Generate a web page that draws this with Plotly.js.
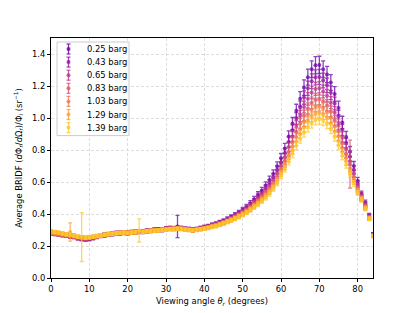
<!DOCTYPE html>
<html>
<head>
<meta charset="utf-8">
<script src="https://cdn.plot.ly/plotly-3.0.1.min.js"></script>
<style>html,body{margin:0;padding:0;background:#fff}#chart{width:415px;height:313px}</style>
</head>
<body>
<div id="chart"></div>
<script>
// Viewing angles (degrees)
const angles = [0,1,2,3,4,5,6,7,8,9,10,11,12,13,14,15,16,17,18,19,20,21,22,23,24,25,26,27,28,29,30,31,32,33,34,35,36,37,38,39,40,41,42,43,44,45,46,47,48,49,50,51,52,53,54,55,56,57,58,59,60,61,62,63,64,65,66,67,68,69,70,71,72,73,74,75,76,77,78,79,80,81,82,83,84];

const labels = ["0.25 barg","0.43 barg","0.65 barg","0.83 barg","1.03 barg","1.29 barg","1.39 barg"];

const bridf_025 = [
0.285,0.280,0.278,0.272,0.268,0.262,0.260,0.252,0.246,0.242,
0.244,0.250,0.258,0.264,0.268,0.272,0.275,0.280,0.279,0.284,
0.281,0.285,0.286,0.290,0.289,0.294,0.296,0.300,0.303,0.301,
0.308,0.310,0.309,0.322,0.310,0.306,0.304,0.300,0.305,0.310,
0.316,0.322,0.330,0.337,0.346,0.356,0.367,0.380,0.392,0.407,
0.425,0.442,0.465,0.490,0.518,0.545,0.578,0.612,0.650,0.698,
0.748,0.810,0.885,0.965,1.045,1.120,1.190,1.255,1.305,1.330,
1.332,1.305,1.272,1.222,1.150,1.062,0.972,0.882,0.790,0.700,
0.605,0.522,0.468,0.388,0.272];
const err_025 = [
.014,.013,.012,.012,.013,.012,.012,.013,.012,.012,
.012,.012,.011,.012,.012,.012,.012,.011,.012,.012,
.012,.012,.012,.012,.012,.012,.012,.013,.012,.012,
.013,.012,.012,.070,.012,.012,.012,.012,.012,.012,
.013,.013,.013,.013,.014,.014,.015,.015,.016,.016,
.017,.018,.019,.020,.021,.022,.023,.025,.026,.028,
.030,.032,.035,.038,.041,.045,.048,.050,.052,.054,
.054,.052,.051,.049,.046,.043,.039,.035,.032,.028,
.024,.021,.019,.016,.012];

const bridf_043 = [
0.282,0.279,0.274,0.270,0.266,0.262,0.258,0.250,0.244,0.243,
0.246,0.252,0.259,0.265,0.270,0.273,0.276,0.281,0.280,0.285,
0.283,0.286,0.288,0.291,0.290,0.295,0.297,0.301,0.302,0.303,
0.309,0.311,0.310,0.314,0.311,0.307,0.305,0.302,0.306,0.311,
0.316,0.321,0.329,0.336,0.344,0.352,0.363,0.376,0.387,0.401,
0.418,0.434,0.456,0.479,0.505,0.531,0.561,0.593,0.630,0.676,
0.724,0.782,0.850,0.923,0.997,1.065,1.128,1.186,1.230,1.254,
1.257,1.234,1.204,1.158,1.091,1.011,0.926,0.844,0.759,0.676,
0.589,0.515,0.460,0.384,0.270];
const err_043 = [
.013,.012,.011,.011,.012,.011,.011,.012,.011,.011,
.011,.011,.011,.011,.011,.011,.011,.011,.011,.011,
.011,.011,.011,.011,.011,.011,.011,.011,.011,.011,
.011,.011,.011,.011,.011,.011,.011,.011,.011,.011,
.012,.012,.012,.012,.013,.013,.013,.014,.014,.015,
.015,.016,.017,.018,.019,.020,.021,.022,.023,.025,
.027,.029,.032,.034,.037,.040,.042,.044,.046,.047,
.047,.046,.045,.043,.040,.037,.034,.031,.028,.025,
.022,.019,.017,.014,.011];

const bridf_065 = [
0.280,0.276,0.272,0.268,0.265,0.261,0.257,0.252,0.247,0.246,
0.249,0.254,0.260,0.266,0.271,0.274,0.277,0.281,0.282,0.285,
0.282,0.285,0.287,0.290,0.291,0.294,0.296,0.299,0.301,0.303,
0.307,0.309,0.311,0.312,0.310,0.306,0.303,0.301,0.304,0.309,
0.314,0.319,0.326,0.333,0.340,0.349,0.360,0.371,0.383,0.396,
0.412,0.427,0.447,0.469,0.493,0.517,0.545,0.576,0.610,0.654,
0.702,0.755,0.818,0.884,0.951,1.012,1.069,1.120,1.159,1.182,
1.186,1.166,1.139,1.096,1.035,0.961,0.882,0.807,0.730,0.653,
0.574,0.507,0.453,0.380,0.268];
const err_065 = [
.011,.011,.011,.011,.011,.011,.011,.011,.011,.011,
.011,.011,.011,.011,.011,.011,.011,.011,.011,.011,
.011,.011,.011,.011,.011,.011,.011,.011,.011,.011,
.011,.011,.011,.011,.011,.011,.011,.011,.011,.011,
.011,.011,.012,.012,.012,.012,.013,.013,.013,.014,
.014,.015,.016,.016,.017,.018,.019,.020,.021,.023,
.024,.026,.028,.031,.033,.035,.037,.039,.040,.041,
.041,.040,.039,.038,.036,.033,.031,.028,.025,.023,
.020,.018,.016,.013,.010];

const bridf_083 = [
0.278,0.275,0.270,0.267,0.264,0.260,0.258,0.254,0.250,0.248,
0.250,0.255,0.261,0.266,0.270,0.273,0.277,0.279,0.281,0.283,
0.281,0.284,0.286,0.289,0.290,0.292,0.295,0.298,0.300,0.302,
0.306,0.308,0.309,0.311,0.309,0.305,0.302,0.300,0.303,0.308,
0.312,0.317,0.324,0.331,0.338,0.346,0.357,0.368,0.378,0.392,
0.406,0.421,0.440,0.460,0.482,0.505,0.531,0.560,0.593,0.635,
0.681,0.731,0.788,0.848,0.909,0.964,1.015,1.060,1.095,1.117,
1.121,1.105,1.080,1.041,0.984,0.917,0.842,0.774,0.712,0.632,
0.560,0.501,0.446,0.377,0.266];
const err_083 = [
.010,.010,.010,.010,.010,.010,.010,.010,.010,.010,
.010,.010,.010,.010,.010,.010,.010,.010,.010,.010,
.010,.010,.010,.010,.010,.010,.010,.010,.010,.010,
.010,.010,.010,.010,.010,.010,.010,.010,.010,.010,
.011,.011,.011,.011,.012,.012,.012,.012,.013,.013,
.013,.014,.015,.015,.016,.017,.018,.019,.020,.021,
.023,.024,.026,.028,.030,.032,.034,.035,.036,.037,
.037,.036,.035,.034,.032,.030,.028,.026,.150,.021,
.019,.017,.015,.013,.010];

const bridf_103 = [
0.283,0.280,0.276,0.272,0.268,0.265,0.262,0.256,0.252,0.250,
0.252,0.256,0.261,0.266,0.270,0.274,0.276,0.279,0.281,0.284,
0.282,0.284,0.286,0.290,0.289,0.292,0.294,0.297,0.299,0.301,
0.305,0.307,0.308,0.310,0.308,0.304,0.301,0.299,0.302,0.306,
0.311,0.316,0.322,0.328,0.336,0.344,0.354,0.365,0.376,0.388,
0.402,0.417,0.434,0.454,0.475,0.496,0.521,0.549,0.581,0.622,
0.667,0.714,0.767,0.823,0.881,0.931,0.978,1.019,1.051,1.072,
1.077,1.063,1.040,1.003,0.949,0.886,0.814,0.752,0.685,0.618,
0.550,0.497,0.441,0.374,0.265];
const err_103 = [
.010,.010,.010,.010,.010,.010,.010,.010,.010,.010,
.010,.010,.010,.010,.010,.010,.010,.010,.010,.010,
.010,.010,.010,.010,.010,.010,.010,.010,.010,.010,
.010,.010,.010,.010,.010,.010,.010,.010,.010,.010,
.010,.010,.011,.011,.011,.011,.012,.012,.012,.012,
.013,.013,.014,.014,.015,.016,.017,.018,.019,.020,
.021,.022,.024,.026,.027,.029,.030,.031,.032,.033,
.033,.032,.032,.031,.029,.027,.025,.023,.021,.019,
.017,.016,.014,.012,.010];

const bridf_129 = [
0.288,0.285,0.281,0.277,0.272,0.287,0.264,0.258,0.255,0.252,
0.254,0.258,0.262,0.267,0.271,0.275,0.277,0.280,0.282,0.285,
0.283,0.285,0.287,0.291,0.289,0.293,0.295,0.297,0.299,0.301,
0.304,0.306,0.307,0.309,0.307,0.303,0.300,0.299,0.301,0.305,
0.309,0.314,0.320,0.326,0.334,0.342,0.352,0.362,0.373,0.385,
0.398,0.412,0.429,0.448,0.467,0.488,0.511,0.538,0.569,0.608,
0.653,0.697,0.747,0.799,0.852,0.898,0.942,0.978,1.007,1.027,
1.033,1.021,0.999,0.965,0.914,0.856,0.787,0.729,0.667,0.603,
0.541,0.492,0.436,0.372,0.263];
const err_129 = [
.010,.010,.010,.010,.010,.057,.010,.010,.010,.010,
.010,.010,.010,.010,.010,.010,.010,.010,.010,.010,
.010,.010,.010,.010,.010,.010,.010,.010,.010,.010,
.010,.010,.010,.010,.010,.010,.010,.010,.010,.010,
.010,.010,.010,.011,.011,.011,.011,.012,.012,.012,
.012,.013,.013,.014,.014,.015,.016,.017,.018,.019,
.020,.021,.022,.024,.025,.027,.028,.029,.030,.031,
.031,.030,.030,.029,.027,.026,.024,.022,.020,.018,
.016,.015,.013,.011,.010];

const bridf_139 = [
0.292,0.288,0.284,0.280,0.274,0.270,0.266,0.258,0.256,0.252,
0.254,0.258,0.262,0.266,0.270,0.274,0.276,0.280,0.282,0.284,
0.282,0.284,0.286,0.297,0.288,0.292,0.294,0.296,0.298,0.300,
0.302,0.304,0.306,0.308,0.306,0.302,0.300,0.298,0.300,0.304,
0.308,0.312,0.318,0.324,0.332,0.340,0.350,0.360,0.370,0.382,
0.394,0.408,0.424,0.442,0.460,0.480,0.502,0.528,0.558,0.596,
0.640,0.682,0.728,0.776,0.826,0.868,0.908,0.940,0.966,0.986,
0.992,0.982,0.962,0.930,0.882,0.828,0.762,0.708,0.650,0.590,
0.532,0.488,0.432,0.370,0.262];
const err_139 = [
.010,.010,.010,.010,.010,.010,.010,.010,.153,.010,
.010,.010,.010,.010,.010,.010,.010,.010,.010,.010,
.010,.010,.010,.072,.010,.010,.010,.010,.010,.010,
.010,.010,.010,.010,.010,.010,.010,.010,.010,.010,
.010,.010,.010,.010,.011,.011,.011,.011,.012,.012,
.012,.012,.013,.013,.014,.014,.015,.016,.017,.018,
.019,.020,.021,.023,.024,.025,.027,.028,.029,.029,
.030,.029,.029,.028,.026,.025,.023,.021,.019,.018,
.016,.014,.013,.011,.009];

const xTicks = [0,10,20,30,40,50,60,70,80];
const yTicks = [0.0,0.2,0.4,0.6,0.8,1.0,1.2,1.4];

const series = [bridf_025,bridf_043,bridf_065,bridf_083,bridf_103,bridf_129,bridf_139];
const errors = [err_025,err_043,err_065,err_083,err_103,err_129,err_139];
const colors = ["106,0,168","148,16,162","185,51,137","214,85,109","237,121,83","251,159,58","253,202,38"];

const FS = 8.4;

const traces = series.map((ys,i)=>({
  type:"scatter", mode:"markers", name:labels[i], showlegend:false,
  x:angles, y:ys,
  marker:{size:4, color:"rgba("+colors[i]+",0.75)", line:{width:0}},
  error_y:{type:"data", array:errors[i], visible:true, color:"rgba("+colors[i]+",0.75)", thickness:1.3, width:2}
}));

// Compact matplotlib-style legend (box, error-bar icons, labels) in paper coordinates
const M = {l:51, r:42, t:38, b:35};
const W = 415, H = 313;
const pw = W - M.l - M.r, ph = H - M.t - M.b;
const px = v => (v - M.l) / pw;      // pixel x -> paper x
const py = v => (H - M.b - v) / ph;  // pixel y -> paper y
const shapes = [];
const annotations = [];
const boxL = 57, boxR = 129, boxT = 42, rowH = 13.1, firstRow = 49;
const boxB = firstRow + rowH * (labels.length - 1) + 8;
shapes.push({type:"rect", xref:"paper", yref:"paper", x0:px(boxL), x1:px(boxR), y0:py(boxB), y1:py(boxT),
  line:{color:"#cccccc", width:1}, fillcolor:"rgba(255,255,255,0.8)", layer:"above"});
labels.forEach((lab,i)=>{
  const cy = firstRow + i*rowH, cx = 68.5;
  const col = "rgba("+colors[i]+",0.8)";
  shapes.push({type:"line", xref:"paper", yref:"paper", x0:px(cx), x1:px(cx), y0:py(cy-5), y1:py(cy+5), line:{color:col, width:1.3}, layer:"above"});
  shapes.push({type:"line", xref:"paper", yref:"paper", x0:px(cx-2), x1:px(cx+2), y0:py(cy-5), y1:py(cy-5), line:{color:col, width:1.2}, layer:"above"});
  shapes.push({type:"line", xref:"paper", yref:"paper", x0:px(cx-2), x1:px(cx+2), y0:py(cy+5), y1:py(cy+5), line:{color:col, width:1.2}, layer:"above"});
  shapes.push({type:"circle", xref:"paper", yref:"paper", x0:px(cx-2), x1:px(cx+2), y0:py(cy+2), y1:py(cy-2), line:{width:0}, fillcolor:col, layer:"above"});
  annotations.push({xref:"paper", yref:"paper", x:px(84.5), y:py(cy), xanchor:"left", yanchor:"middle",
    text:lab, showarrow:false, font:{family:"DejaVu Sans", size:FS, color:"#000"}});
});

const layout = {
  width:W, height:H,
  margin:M,
  paper_bgcolor:"#fff", plot_bgcolor:"#fff",
  font:{family:"DejaVu Sans", size:FS, color:"#000"},
  showlegend:false,
  shapes:shapes, annotations:annotations,
  xaxis:{range:[0,84], tickvals:xTicks, ticktext:xTicks.map(String),
    showline:true, linecolor:"#000", linewidth:1, mirror:true,
    ticks:"outside", ticklen:3, tickwidth:1, tickcolor:"#000",
    tickfont:{size:FS},
    showgrid:true, gridcolor:"#d4d4d4", griddash:"3px,2px", gridwidth:0.8,
    zeroline:false,
    title:{text:"Viewing angle <i>θ</i><sub><i>r</i></sub> (degrees)", font:{size:FS}, standoff:5}},
  yaxis:{range:[0,1.5], tickvals:yTicks, ticktext:yTicks.map(v=>v.toFixed(1)),
    showline:true, linecolor:"#000", linewidth:1, mirror:true,
    ticks:"outside", ticklen:3, tickwidth:1, tickcolor:"#000",
    tickfont:{size:FS},
    showgrid:true, gridcolor:"#d4d4d4", griddash:"3px,2px", gridwidth:0.8,
    zeroline:false,
    title:{text:"Average BRIDF (<i>d</i>Φ<sub><i>r</i></sub>/<i>d</i>Ω<sub><i>r</i></sub>)/Φ<sub><i>i</i></sub> (sr<sup>−1</sup>)", font:{size:FS}, standoff:8}}
};

Plotly.newPlot("chart", traces, layout, {staticPlot:true, displayModeBar:false});
</script>
</body>
</html>
